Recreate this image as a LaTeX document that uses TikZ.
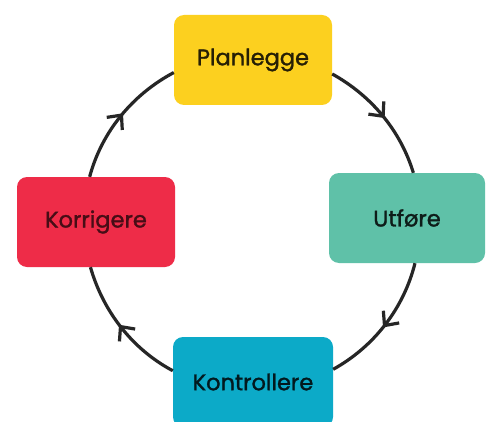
\documentclass[tikz,border=0pt]{standalone}
\usepackage{fontspec}
\setmainfont{Poppins}[FakeBold=1.4]
\usetikzlibrary{shapes,decorations.markings}

\definecolor{planyellow}{HTML}{FCD01F}
\definecolor{utfgreen}{HTML}{5FC1A8}
\definecolor{konblue}{HTML}{0CAAC8}
\definecolor{korrred}{HTML}{EE2C48}

\begin{document}
\begin{tikzpicture}[x=1pt,y=1pt]
        \tikzstyle{phase}=[rectangle,rounded corners=10pt,minimum width=158pt,minimum height=90pt,inner sep=0pt,font=\fontsize{22.5}{26}\selectfont]
        \tikzstyle{flow}=[line width=3.2pt,draw=black!85,looseness=0.89,
          postaction={decorate},
          decoration={markings,mark=at position 0.5 with {\draw[black!85,line width=3.2pt,line join=miter] (-10pt,10pt) -- (1pt,0pt) -- (-10pt,-10pt);}}]

        \useasboundingbox[fill=white] (0,0) rectangle (486,421);

        \node[phase,fill=planyellow,text=black!85!planyellow](plan) at (253,361){Planlegge};
        \node[phase,fill=utfgreen,text=black!85!utfgreen,minimum width=156pt](utf) at (407,203){Utføre};
        \node[phase,fill=konblue,text=black!85!konblue,minimum width=160pt](kon) at (253,39){Kontrollere};
        \node[phase,fill=korrred,text=black!70!korrred](korr) at (96,199){Korrigere};

        \draw[flow] (korr.98) to[out=75,in=208] (plan.189);
        \draw[flow] (plan.-10) to[out=-29,in=107] (utf.82);
        \draw[flow] (utf.-80) to[out=-104,in=29] (kon.9);
        \draw[flow] (kon.172) to[out=152,in=-74] (korr.-97);
      \end{tikzpicture}
\end{document}
